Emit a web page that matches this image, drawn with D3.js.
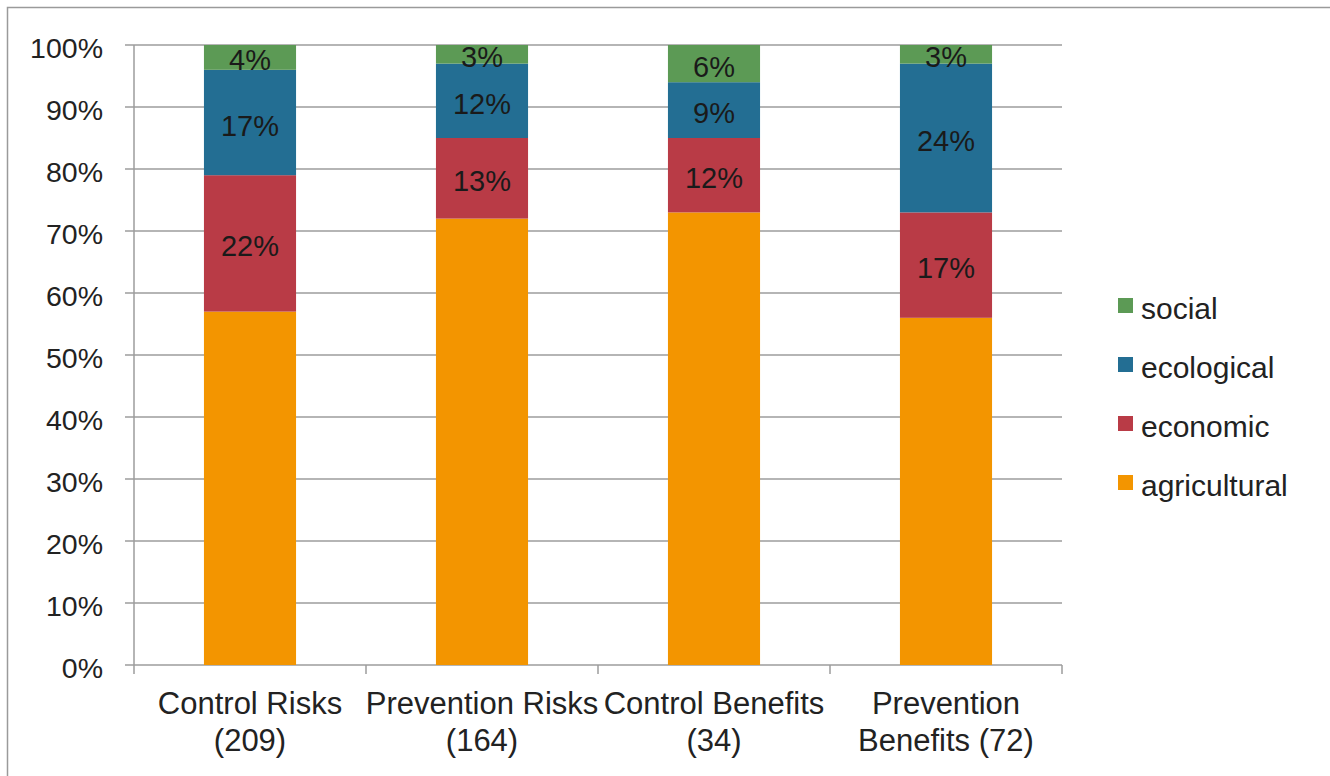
<!DOCTYPE html>
<html><head><meta charset="utf-8">
<script src="https://cdn.jsdelivr.net/npm/d3@7/dist/d3.min.js"></script>
<style>body{margin:0;background:#fff;}svg{display:block;font-family:"Liberation Sans",Arial,sans-serif;}</style>
</head><body><svg id="c" width="1330" height="776"></svg>
<script>
const categories = ["Control Risks (209)", "Prevention Risks (164)", "Control Benefits (34)", "Prevention Benefits (72)"];
const categoryLines = [["Control Risks","(209)"],["Prevention Risks","(164)"],["Control Benefits","(34)"],["Prevention","Benefits (72)"]];
const seriesNames = ["agricultural","economic","ecological","social"];
const agricultural = [0.57, 0.72, 0.73, 0.56];
const economic = [0.22, 0.13, 0.12, 0.17];
const ecological = [0.17, 0.12, 0.09, 0.24];
const social = [0.04, 0.03, 0.06, 0.03];
const showLabel = {agricultural:false, economic:true, ecological:true, social:true};
const yTicks = [0,0.1,0.2,0.3,0.4,0.5,0.6,0.7,0.8,0.9,1.0];
const colors = {agricultural:"#F39500", economic:"#B93B46", ecological:"#236E93", social:"#5C9A55"};

const svg = d3.select("#c");
svg.append("rect").attr("x",7.5).attr("y",7.5).attr("width",1340).attr("height",790)
  .attr("fill","#fff").attr("stroke","#9a9a9a").attr("stroke-width",1.5);

const pLeft=134, pRight=1062, pTop=45, pBottom=665;
const x = d3.scaleBand().domain(categories).range([pLeft,pRight]).paddingInner(0.603).paddingOuter(0.3015);
const y = d3.scaleLinear().domain([0,1]).range([pBottom,pTop]);

// gridlines
svg.append("g").selectAll("line").data(yTicks).join("line")
  .attr("x1",pLeft-9).attr("x2",pRight).attr("y1",d=>y(d)).attr("y2",d=>y(d))
  .attr("stroke","#9c9c9c").attr("stroke-width",1.5);

// y axis line
svg.append("line").attr("x1",pLeft).attr("x2",pLeft).attr("y1",pTop).attr("y2",pBottom)
  .attr("stroke","#9c9c9c").attr("stroke-width",1.5);

// y tick labels
const yAxis = d3.axisLeft(y).tickValues(yTicks).tickFormat(d3.format(".0%")).tickSize(0).tickPadding(31);
const ya = svg.append("g").attr("transform",`translate(${pLeft},3)`).call(yAxis);
ya.select(".domain").remove();
ya.selectAll("text").attr("font-size",28.5).attr("fill","#222").attr("font-family","Liberation Sans, Arial, sans-serif");

// x axis ticks at boundaries
const step = x.step();
const bounds = d3.range(categories.length+1).map(i=>pLeft + i*step);
svg.append("g").selectAll("line").data(bounds).join("line")
  .attr("x1",d=>d).attr("x2",d=>d).attr("y1",pBottom).attr("y2",pBottom+9)
  .attr("stroke","#9c9c9c").attr("stroke-width",1.5);

// stacked data
const rows = categories.map((c,i)=>({cat:c, agricultural:agricultural[i], economic:economic[i], ecological:ecological[i], social:social[i]}));
const stacked = d3.stack().keys(seriesNames)(rows);

const g = svg.append("g");
stacked.forEach(s=>{
  g.append("g").selectAll("rect").data(s).join("rect")
    .attr("x",d=>x(d.data.cat)).attr("width",x.bandwidth())
    .attr("y",d=>y(d[1])).attr("height",d=>y(d[0])-y(d[1]))
    .attr("fill",colors[s.key]);
});
stacked.forEach(s=>{
  if(!showLabel[s.key]) return;
  g.append("g").selectAll("text").data(s).join("text")
    .attr("x",d=>x(d.data.cat)+x.bandwidth()/2)
    .attr("y",d=>(y(d[0])+y(d[1]))/2 + 13)
    .attr("text-anchor","middle").attr("font-size",29).attr("fill","#1a1a1a")
    .text(d=>Math.round((d[1]-d[0])*100)+"%");
});

// category labels
const cl = svg.append("g").selectAll("text").data(categories).join("text")
  .attr("text-anchor","middle").attr("font-size",31).attr("fill","#222")
  .attr("x",d=>x(d)+x.bandwidth()/2).attr("y",714);
cl.each(function(d,i){
  const t=d3.select(this);
  categoryLines[i].forEach((ln,j)=>{
    t.append("tspan").attr("x",x(d)+x.bandwidth()/2).attr("dy",j===0?0:37).text(ln);
  });
});

// legend
const legendOrder = ["social","ecological","economic","agricultural"];
const lg = svg.append("g").selectAll("g").data(legendOrder).join("g")
  .attr("transform",(d,i)=>`translate(1118,${298+i*59})`);
lg.append("rect").attr("width",15).attr("height",15).attr("fill",d=>colors[d]);
lg.append("text").attr("x",23).attr("y",21).attr("font-size",30).attr("fill","#222").text(d=>d);
</script></body></html>
